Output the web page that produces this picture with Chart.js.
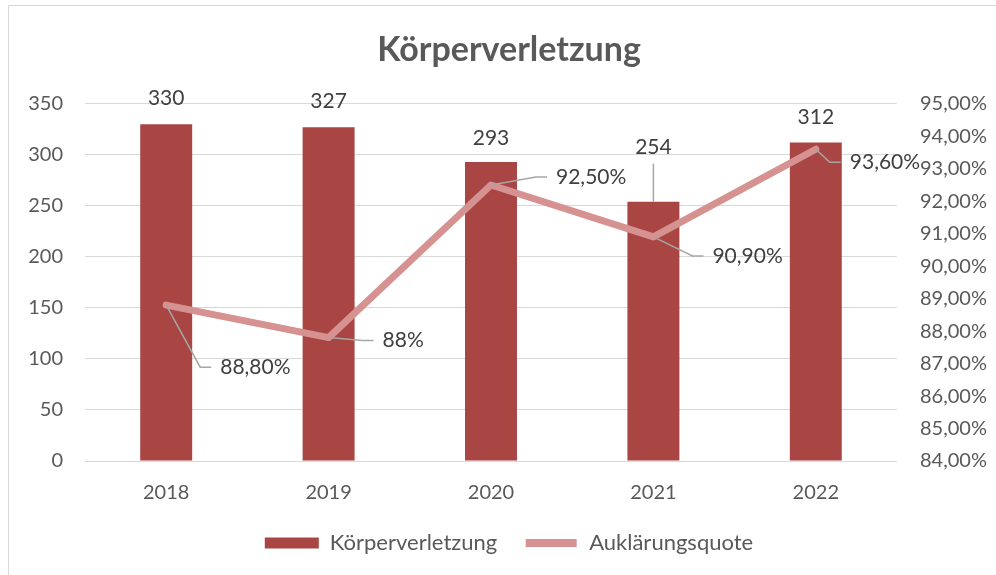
<!DOCTYPE html>
<html><head><meta charset="utf-8">
<script src="https://cdn.jsdelivr.net/npm/chart.js@4"></script>
<style>
html,body{margin:0;padding:0;background:#fff;overflow:hidden;width:996px;height:575px;}
#wrap{position:absolute;left:0;top:0;width:996px;height:575px;}
#frame{position:absolute;left:8px;top:5px;width:1100px;height:700px;border:1px solid #d9d9d9;box-sizing:border-box;pointer-events:none;}
</style>
</head><body>
<div id="wrap"><canvas id="c" width="996" height="575"></canvas></div>
<div id="frame"></div>
<script>
const categories = ['2018', '2019', '2020', '2021', '2022'];
const caseCounts = [330, 327, 293, 254, 312];
const clearanceRates = [88.8, 87.8, 92.5, 90.9, 93.6];
const clearanceLabels = ['88,80%', '88%', '92,50%', '90,90%', '93,60%'];
const seriesNames = ['Körperverletzung', 'Auklärungsquote'];

const FONT = 'Lato';
const labelPlugin = {
  id: 'dl',
  afterDatasetsDraw(chart, args, opts) {
    const ctx = chart.ctx;
    ctx.save();
    ctx.font = '21px ' + FONT;
    ctx.fillStyle = '#404040';
    ctx.textBaseline = 'middle';
    ctx.strokeStyle = '#a6a6a6';
    ctx.lineWidth = 1.5;
    chart.getDatasetMeta(0).data.forEach((bar, i) => {
      const y = bar.y + opts.barOffsets[i];
      if (opts.barOffsets[i] < -35) {
        ctx.beginPath(); ctx.moveTo(bar.x, bar.y); ctx.lineTo(bar.x, y + 17); ctx.stroke();
      }
      ctx.textAlign = 'center';
      ctx.fillText(String(caseCounts[i]), bar.x, y);
    });
    chart.getDatasetMeta(1).data.forEach((pt, i) => {
      const ax = pt.x + opts.lineOffsets[i][0], ay = pt.y + opts.lineOffsets[i][1];
      ctx.beginPath(); ctx.moveTo(pt.x, pt.y); ctx.lineTo(ax - 20, ay); ctx.lineTo(ax - 9, ay); ctx.stroke();
      ctx.textAlign = 'left';
      ctx.fillText(clearanceLabels[i], ax, ay);
    });
    ctx.restore();
  }
};

new Chart(document.getElementById('c'), {
  data: {
    labels: categories,
    datasets: [
      { type: 'bar', label: seriesNames[0], data: caseCounts, yAxisID: 'y',
        backgroundColor: '#a94644', borderWidth: 0, categoryPercentage: 1, barPercentage: 0.32, order: 1 },
      { type: 'line', label: seriesNames[1], data: clearanceRates, yAxisID: 'y1',
        borderColor: '#d59290', backgroundColor: '#d59290', borderWidth: 7,
        pointRadius: 0, tension: 0, borderJoinStyle: 'round', borderCapStyle: 'round', order: 0 }
    ]
  },
  options: {
    responsive: false, animation: false, devicePixelRatio: 1,
    layout: { padding: { top: 30, bottom: 11, left: 22, right: 0 } },
    plugins: {
      title: { display: true, text: 'Körperverletzung', color: '#595959',
        font: { family: FONT, size: 34, weight: 'bold', lineHeight: 1.2 }, padding: { top: 0, bottom: 33 } },
      legend: { position: 'bottom',
        labels: { color: '#595959', font: { family: FONT, size: 22 }, boxWidth: 54, boxHeight: 11, padding: 27,
          generateLabels(chart) {
            return [
              { text: seriesNames[0], fillStyle: '#a94644', strokeStyle: '#a94644', lineWidth: 0, datasetIndex: 0, fontColor: '#595959' },
              { text: seriesNames[1], fillStyle: '#d59290', strokeStyle: '#ffffff', lineWidth: 3, datasetIndex: 1, fontColor: '#595959' }
            ];
          } } },
      tooltip: { enabled: false },
      dl: { barOffsets: [-26, -26, -24, -55, -25], lineOffsets: [[54, 62], [54, 3], [65, -8], [59, 19], [34, 13]] }
    },
    scales: {
      x: { grid: { display: false, drawTicks: false }, border: { display: false },
        ticks: { color: '#595959', font: { family: FONT, size: 20 }, padding: 20 },
        afterFit(s) { s.height = 44; } },
      y: { position: 'left', min: 0, max: 350,
        grid: { color: '#d9d9d9', lineWidth: 1, drawTicks: false }, border: { display: false },
        ticks: { stepSize: 50, color: '#595959', font: { family: FONT, size: 20 }, padding: 22 },
        afterFit(s) { s.width = 63; } },
      y1: { position: 'right', min: 84, max: 95,
        grid: { display: false, drawTicks: false }, border: { display: false },
        ticks: { stepSize: 1, color: '#595959', font: { family: FONT, size: 20 }, padding: 23,
          callback: v => v.toFixed(2).replace('.', ',') + '%' },
        afterFit(s) { s.width = 99; } }
    }
  },
  plugins: [labelPlugin]
});
</script>
</body></html>
